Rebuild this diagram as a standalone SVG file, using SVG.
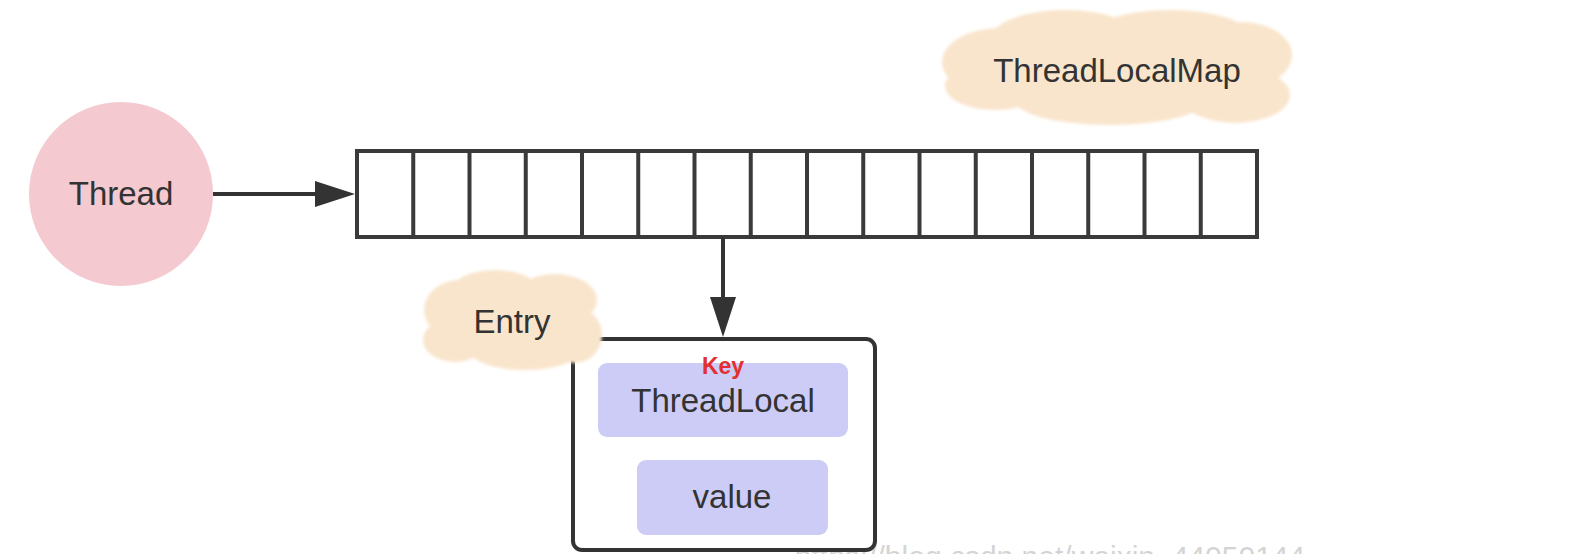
<svg xmlns="http://www.w3.org/2000/svg" width="1588" height="554" viewBox="0 0 1588 554">
  <defs>
    <marker id="arrow" viewBox="0 0 40 26" refX="30" refY="13" markerWidth="40" markerHeight="26" markerUnits="userSpaceOnUse" orient="auto">
      <path d="M0,0 L40,13 L0,26 z" fill="#333"/>
    </marker>
    <filter id="soft" x="-10%" y="-10%" width="120%" height="120%">
      <feGaussianBlur stdDeviation="1.5"/>
    </filter>
    <style>
      .lbl { font-family: "Liberation Sans", Arial, sans-serif; font-size: 33px; fill: #333; text-anchor: middle; }
      .cloud { fill: #f9e5cc; filter: url(#soft); }
      .cell { fill: #fff; stroke: #3a3a3a; stroke-width: 4; }
      .conn { stroke: #333; stroke-width: 4; fill: none; }
      .inner { fill: #cdccf6; }
    </style>
  </defs>
  <rect width="1588" height="554" fill="#fff"/>

  <!-- watermark -->
  <text x="1050" y="567" font-family="Liberation Sans, Arial, sans-serif" font-size="30" fill="#d4d4d4" text-anchor="middle">https://blog.csdn.net/weixin_44050144</text>

  <g id="threadlocalmap-label">
    <g class="cloud">
      <ellipse cx="1117" cy="68" rx="150" ry="45"/>
      <ellipse cx="1000" cy="62" rx="58" ry="34"/>
      <ellipse cx="1065" cy="40" rx="75" ry="30"/>
      <ellipse cx="1170" cy="36" rx="80" ry="26"/>
      <ellipse cx="1242" cy="55" rx="50" ry="33"/>
      <ellipse cx="1235" cy="95" rx="55" ry="28"/>
      <ellipse cx="1110" cy="100" rx="95" ry="25"/>
      <ellipse cx="995" cy="86" rx="50" ry="24"/>
    </g>
    <text class="lbl" x="1117" y="82">ThreadLocalMap</text>
  </g>

  <g id="thread">
    <circle cx="121" cy="194" r="92" fill="#f4c9cf"/>
    <text class="lbl" x="121" y="205">Thread</text>
  </g>

  <g id="map-array">
    <rect class="cell" x="357" y="151" width="900" height="86"/>
    <path class="cell" d="M413.25,151V237 M469.5,151V237 M525.75,151V237 M582,151V237 M638.25,151V237 M694.5,151V237 M750.75,151V237 M807,151V237 M863.25,151V237 M919.5,151V237 M975.75,151V237 M1032,151V237 M1088.25,151V237 M1144.5,151V237 M1200.75,151V237"/>
  </g>

  <g id="connectors">
    <path class="conn" d="M213,194 H345" marker-end="url(#arrow)"/>
    <path class="conn" d="M723,237 V327" marker-end="url(#arrow)"/>
  </g>

  <g id="entry">
    <rect x="573" y="339" width="302" height="211" rx="9" fill="#fff" stroke="#333" stroke-width="4"/>
    <g id="key">
      <rect class="inner" x="598" y="363" width="250" height="74" rx="9"/>
      <text x="723" y="374" font-family="Liberation Sans, Arial, sans-serif" font-size="23" font-weight="bold" fill="#e2302f" text-anchor="middle">Key</text>
      <text class="lbl" x="723" y="412">ThreadLocal</text>
    </g>
    <g id="value">
      <rect class="inner" x="637" y="460" width="191" height="75" rx="9"/>
      <text class="lbl" x="732" y="508">value</text>
    </g>
  </g>

  <g id="entry-label">
    <g class="cloud">
      <ellipse cx="512" cy="320" rx="78" ry="36"/>
      <ellipse cx="460" cy="310" rx="36" ry="30"/>
      <ellipse cx="495" cy="292" rx="45" ry="22"/>
      <ellipse cx="555" cy="300" rx="42" ry="26"/>
      <ellipse cx="575" cy="335" rx="27" ry="28"/>
      <ellipse cx="525" cy="350" rx="55" ry="20"/>
      <ellipse cx="455" cy="340" rx="32" ry="22"/>
    </g>
    <text class="lbl" x="512" y="333">Entry</text>
  </g>
</svg>
